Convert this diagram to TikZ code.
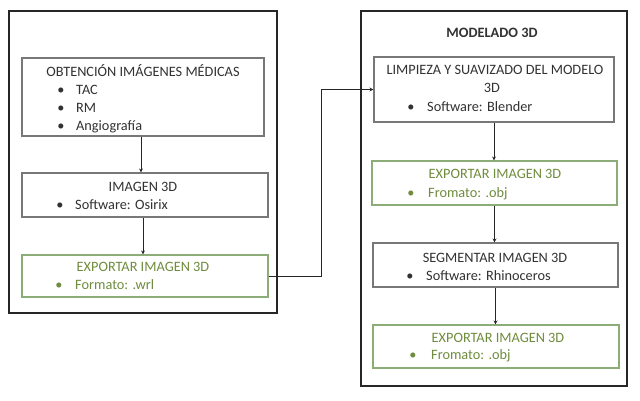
\documentclass[tikz,border=0pt]{standalone}
\usepackage{fontspec}
\setmainfont{Carlito}
\usetikzlibrary{arrows.meta}
\definecolor{exgreen}{RGB}{112,140,62}
\definecolor{exborder}{RGB}{140,172,120}
\definecolor{boxgray}{RGB}{120,120,120}
\definecolor{txt}{RGB}{50,50,50}
\tikzset{
  frame/.style={draw=black!85,line width=1.6pt},
  stepbox/.style={draw=boxgray,line width=1.1pt,inner sep=0pt},
  exbox/.style={draw=exborder,line width=1.1pt,inner sep=0pt},
  txtn/.style={anchor=base,inner sep=0pt,text=txt,font=\fontsize{14.3}{17}\selectfont},
  txtl/.style={anchor=base west,inner sep=0pt,text=txt,font=\fontsize{14.3}{17}\selectfont},
  gtxtn/.style={txtn,text=exgreen},
  gtxtl/.style={txtl,text=exgreen},
  arr/.style={draw=black!85,line width=0.9pt,-{Stealth[length=4pt,width=4pt]}}
}
\begin{document}
\begin{tikzpicture}[x=1pt,y=-1pt]
\useasboundingbox[fill=white] (0,0) rectangle (640,400);
% frames
\draw[frame] (9,11) rectangle (277,313);
\draw[frame] (361,11) rectangle (627,386);
% left column boxes
\node[stepbox,minimum width=242pt,minimum height=78pt] (b1) at (143,97) {};
\node[stepbox,minimum width=246pt,minimum height=44pt] (b2) at (145,195) {};
\node[exbox,minimum width=246pt,minimum height=42pt] (b3) at (145,276) {};
% right column boxes
\node[stepbox,minimum width=240pt,minimum height=65pt] (b4) at (494,89.5) {};
\node[exbox,minimum width=245pt,minimum height=44pt] (b5) at (494.5,183) {};
\node[stepbox,minimum width=245pt,minimum height=44pt] (b6) at (495.5,265) {};
\node[exbox,minimum width=246pt,minimum height=43pt] (b7) at (496,346.5) {};
% texts left
\node[txtn] (t1) at (143,76.5) {OBTENCIÓN IMÁGENES MÉDICAS};
\node[txtn] (t1a) at (61,94.5) {•};
\node[txtl] (t1b) at (76,94.5) {TAC};
\node[txtn] (t1c) at (61,112.5) {•};
\node[txtl] (t1d) at (76,112.5) {RM};
\node[txtn] (t1e) at (61,130.5) {•};
\node[txtl] (t1f) at (76,130.5) {Angiografía};
\node[txtn] (t2) at (143,191) {IMAGEN 3D};
\node[txtn] (t2a) at (60,209.5) {•};
\node[txtl] (t2b) at (75,209.5) {Software: Osirix};
\node[gtxtn] (t3) at (143,271) {EXPORTAR IMAGEN 3D};
\node[gtxtn] (t3a) at (59,289.5) {•};
\node[gtxtl] (t3b) at (75,289.5) {Formato: .wrl};
% texts right
\node[txtn,font=\fontsize{14.3}{17}\selectfont\bfseries] (tt) at (492,37) {MODELADO 3D};
\node[txtn] (t4) at (495,74.5) {LIMPIEZA Y SUAVIZADO DEL MODELO};
\node[txtn] (t4a) at (492,92) {3D};
\node[txtn] (t4b) at (411,111) {•};
\node[txtl] (t4c) at (427,111) {Software: Blender};
\node[gtxtn] (t5) at (495,178) {EXPORTAR IMAGEN 3D};
\node[gtxtn] (t5a) at (411,197) {•};
\node[gtxtl] (t5b) at (428,197) {Fromato: .obj};
\node[txtn] (t6) at (495,262) {SEGMENTAR IMAGEN 3D};
\node[txtn] (t6a) at (410,280) {•};
\node[txtl] (t6b) at (426,280) {Software: Rhinoceros};
\node[gtxtn] (t7) at (498,342) {EXPORTAR IMAGEN 3D};
\node[gtxtn] (t7a) at (413,359.5) {•};
\node[gtxtl] (t7b) at (431,359.5) {Fromato: .obj};
% connectors
\coordinate (c1) at (321,276);
\coordinate (c2) at (321,89.5);
\draw[arr] ([xshift=-2pt]b1.south) -- ([xshift=-2pt]b1.south |- b2.north);
\draw[arr] ([xshift=-2pt]b2.south) -- ([xshift=-2pt]b2.south |- b3.north);
\draw[arr] (b3.east) -- (c1) -- (c2) -- (b4.west);
\draw[arr] (b4.south) -- (b4.south |- b5.north);
\draw[arr] (b5.south) -- (b5.south |- b6.north);
\draw[arr] (b6.south) -- (b6.south |- b7.north);
\end{tikzpicture}
\end{document}
